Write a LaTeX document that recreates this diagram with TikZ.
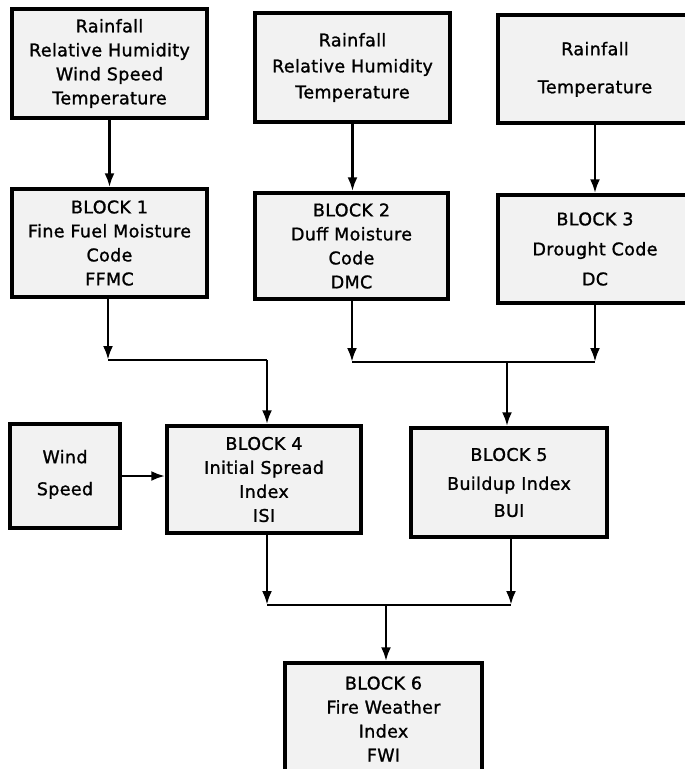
\documentclass[tikz,border=0pt]{standalone}
\usepackage{fontspec}
\setmainfont{DejaVu Sans}[LetterSpace=2,FakeBold=1.2]
\usepackage{tikz}
\usetikzlibrary{arrows.meta,positioning,calc}
\usepackage{xcolor}
\definecolor{cBox}{RGB}{242,242,242}
\newcommand{\lbl}{\fontsize{17.5}{24}\selectfont}

\begin{document}
\begin{tikzpicture}[x=1pt, y=-1pt, font=\lbl,
  box/.style={draw=black, line width=3.4pt, fill=cBox, align=center, inner sep=0pt},
  link/.style={line width=2.8pt, -{Latex[length=14pt,width=10pt]}},
  rail/.style={line width=2.8pt}]
\useasboundingbox (0,0) rectangle (685,769);
% inputs
\node[box, minimum width=195pt, minimum height=109pt] (inA) at (109.5,63.5)
  {Rainfall\\Relative Humidity\\Wind Speed\\Temperature};
\node[box, minimum width=195pt, minimum height=109pt] (inB) at (352.5,67.5)
  {Rainfall\\[2pt]Relative Humidity\\[2pt]Temperature};
\node[box, minimum width=194pt, minimum height=108pt] (inC) at (595,69)
  {\\[-10pt]Rainfall\\[14pt]Temperature};
\node[box, minimum width=110pt, minimum height=104pt] (wind) at (65,476)
  {\\[-14pt]Wind\\[8pt]Speed};
% blocks
\node[box, minimum width=195pt, minimum height=108pt] (blk1) at (109.5,243)
  {BLOCK 1\\Fine Fuel Moisture\\Code\\FFMC};
\node[box, minimum width=193pt, minimum height=106pt] (blk2) at (351.5,246)
  {BLOCK 2\\Duff Moisture\\Code\\DMC};
\node[box, minimum width=194pt, minimum height=108pt] (blk3) at (595,249)
  {BLOCK 3\\[6pt]Drought Code\\[6pt]DC};
\node[box, minimum width=194pt, minimum height=107pt] (blk4) at (264,479.5)
  {BLOCK 4\\Initial Spread\\Index\\ISI};
\node[box, minimum width=196pt, minimum height=109pt] (blk5) at (509,482.5)
  {BLOCK 5\\[5pt]Buildup Index\\[3pt]BUI};
\node[box, minimum width=197pt, minimum height=112pt] (blk6) at (383.5,719)
  {BLOCK 6\\Fire Weather\\Index\\FWI};
% junctions
\coordinate (j1) at (108,360);
\coordinate (j1r) at (267,360);
\coordinate (j2) at (352,362);
\coordinate (j3) at (595,362);
\coordinate (j23) at (507,362);
\coordinate (j4) at (267,605);
\coordinate (j5) at (511,605);
\coordinate (j45) at (386,605);
% connectors
\foreach \a/\b in {inA/blk1, inB/blk2, inC/blk3}
  \draw[link] (\a.south) -- (\a.south |- \b.north);
\draw[link] (j1 |- blk1.south) -- (j1);
\draw[rail] (j1) -- (j1r);
\draw[link] (j1r) -- (j1r |- blk4.north);
\draw[link] (j2 |- blk2.south) -- (j2);
\draw[link] (j3 |- blk3.south) -- (j3);
\draw[rail] (j2) -- (j3);
\draw[link] (j23) -- (j23 |- blk5.north);
\draw[link] (wind.east) -- (wind.east -| blk4.west);
\draw[link] (j4 |- blk4.south) -- (j4);
\draw[link] (j5 |- blk5.south) -- (j5);
\draw[rail] (j4) -- (j5);
\draw[link] (j45) -- (j45 |- blk6.north);
\end{tikzpicture}
\end{document}
